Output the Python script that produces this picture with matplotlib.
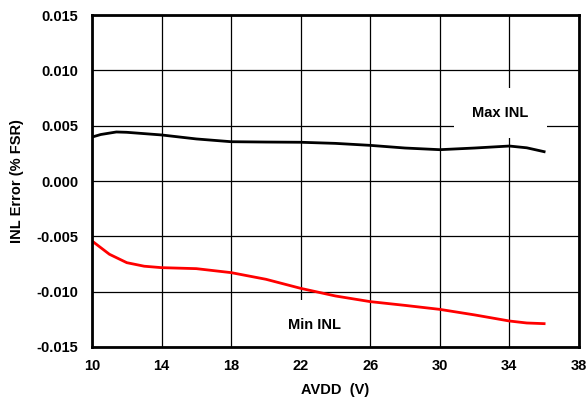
import matplotlib
matplotlib.use("Agg")
import matplotlib.pyplot as plt

plt.rcParams['font.family'] = ['Liberation Sans', 'DejaVu Sans']
plt.rcParams['font.weight'] = 'bold'

# AVDD (V) vs INL error (% FSR)
max_x = [10, 10.5, 11.4, 12, 14, 16, 18, 20, 22, 24, 26, 28, 30, 32, 34, 35, 36]
max_inl = [0.00397, 0.0042, 0.00443, 0.0044, 0.00416, 0.0038, 0.00355, 0.00352,
           0.0035, 0.0034, 0.00322, 0.00298, 0.00283, 0.00298, 0.00316, 0.003, 0.00265]

min_x = [10, 11, 12, 13, 14, 16, 18, 20, 22, 24, 26, 28, 30, 32, 34, 35, 36]
min_inl = [-0.00542, -0.00662, -0.00738, -0.0077, -0.00783, -0.00792, -0.00828, -0.00888,
           -0.0097, -0.01039, -0.0109, -0.01124, -0.0116, -0.0121, -0.01265, -0.01283, -0.01289]

xticks = [10, 14, 18, 22, 26, 30, 34, 38]
yticks = [-0.015, -0.010, -0.005, 0.000, 0.005, 0.010, 0.015]

fs = 10.5

fig = plt.figure(figsize=(5.88, 4.0), dpi=100)
ax = fig.add_axes([0.1565, 0.1325, 0.828, 0.83])

ax.plot(max_x, max_inl, color='black', lw=2, zorder=3)
ax.plot(min_x, min_inl, color='#ff0000', lw=2, zorder=3)

ax.set_xlim(10, 38)
ax.set_ylim(-0.015, 0.015)
ax.set_xticks(xticks)
ax.set_yticks(yticks)
ax.set_yticklabels(['%.3f' % v for v in yticks])
ax.grid(True, color='black', lw=0.9)
ax.tick_params(length=0, labelsize=fs)
ax.tick_params(axis='y', pad=10)
ax.tick_params(axis='x', pad=9)
for lbl in ax.get_xticklabels() + ax.get_yticklabels():
    lbl.set_fontweight('bold')
for sp in ax.spines.values():
    sp.set_linewidth(2)
    sp.set_zorder(5)

ax.set_xlabel('AVDD  (V)', fontsize=fs, fontweight='bold', labelpad=7)
ax.set_ylabel('INL Error (% FSR)', fontsize=fs, fontweight='bold', labelpad=9)

# white label boxes sit over the grid but under the curves
box = dict(facecolor='white', edgecolor='none', pad=13)
ax.text(33.5, 0.00615, 'Max INL', ha='center', va='center', fontsize=fs,
        fontweight='bold', bbox=box, zorder=2)
ax.text(22.8, -0.0130, 'Min INL', ha='center', va='center', fontsize=fs,
        fontweight='bold', bbox=box, zorder=2)

fig.savefig('out.png', dpi=100)
